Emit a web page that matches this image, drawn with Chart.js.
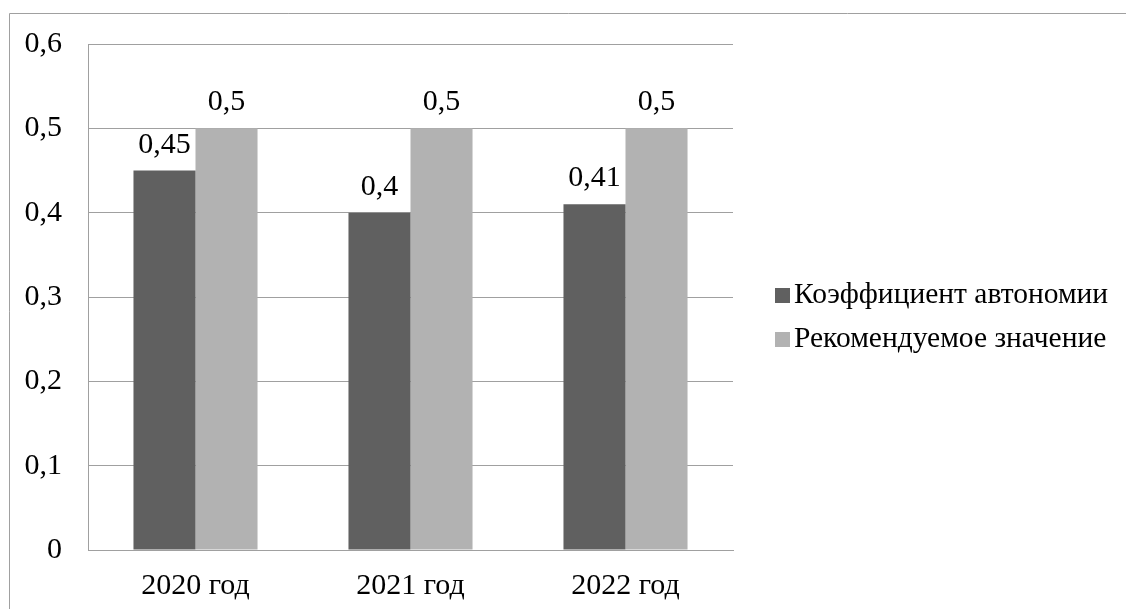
<!DOCTYPE html>
<html>
<head>
<meta charset="utf-8">
<script src="https://cdn.jsdelivr.net/npm/chart.js@4/dist/chart.umd.min.js"></script>
<style>
  html, body { margin: 0; padding: 0; background: #fff; }
  #wrap { width: 1126px; height: 609px; position: relative; }
</style>
</head>
<body>
<div id="wrap"><canvas id="c" width="1126" height="609"></canvas></div>
<script>
const categories = ['2020 год', '2021 год', '2022 год'];
const autonomyRatio = [0.45, 0.4, 0.41];
const recommendedValue = [0.5, 0.5, 0.5];
const seriesNames = ['Коэффициент автономии', 'Рекомендуемое значение'];
const yTicks = [0, 0.1, 0.2, 0.3, 0.4, 0.5, 0.6];

const FONT = '"Liberation Serif", "Times New Roman", serif';
const fmt = v => String(v).replace('.', ',');

// Outer frame around the figure (only top and left edges fall inside the canvas)
const framePlugin = {
  id: 'frame',
  beforeDraw(chart) {
    const ctx = chart.ctx;
    ctx.save();
    ctx.fillStyle = '#ffffff';
    ctx.fillRect(0, 0, chart.width, chart.height);
    ctx.strokeStyle = '#a0a0a0';
    ctx.lineWidth = 1;
    ctx.beginPath();
    ctx.moveTo(9.5, chart.height + 2);
    ctx.lineTo(9.5, 13.5);
    ctx.lineTo(chart.width + 2, 13.5);
    ctx.stroke();
    ctx.restore();
  }
};

// Value labels above each bar
const valueLabels = {
  id: 'valueLabels',
  afterDatasetsDraw(chart) {
    const ctx = chart.ctx;
    ctx.save();
    ctx.font = '30px ' + FONT;
    ctx.fillStyle = '#000';
    ctx.textAlign = 'center';
    ctx.textBaseline = 'alphabetic';
    chart.data.datasets.forEach((ds, i) => {
      chart.getDatasetMeta(i).data.forEach((bar, j) => {
        ctx.fillText(fmt(ds.data[j]), bar.x, bar.y - 18);
      });
    });
    ctx.restore();
  }
};

// Legend on the right side
const sideLegend = {
  id: 'sideLegend',
  afterDraw(chart) {
    const ctx = chart.ctx;
    ctx.save();
    ctx.font = '29.5px ' + FONT;
    ctx.textBaseline = 'alphabetic';
    ctx.textAlign = 'left';
    chart.data.datasets.forEach((ds, i) => {
      const base = 303 + i * 44;
      ctx.fillStyle = ds.backgroundColor;
      ctx.fillRect(775, base - 15, 15, 15);
      ctx.fillStyle = '#000';
      ctx.fillText(ds.label, 794, base);
    });
    ctx.restore();
  }
};

new Chart(document.getElementById('c'), {
  type: 'bar',
  data: {
    labels: categories,
    datasets: [
      { label: seriesNames[0], data: autonomyRatio, backgroundColor: '#606060' },
      { label: seriesNames[1], data: recommendedValue, backgroundColor: '#b2b2b2' }
    ]
  },
  options: {
    responsive: false,
    animation: false,
    events: [],
    layout: { padding: { left: 0, top: 43, right: 393, bottom: 0 } },
    datasets: { bar: { categoryPercentage: 0.577, barPercentage: 1.0 } },
    plugins: { legend: { display: false }, tooltip: { enabled: false } },
    scales: {
      x: {
        grid: { display: false, drawTicks: false },
        border: { display: true, color: '#a0a0a0', width: 1 },
        ticks: { color: '#000', font: { family: FONT, size: 30 }, padding: 18 },
        afterFit(scale) { scale.height = 59; }
      },
      y: {
        min: 0, max: 0.6,
        afterBuildTicks(scale) { scale.ticks = yTicks.map(v => ({ value: v })); },
        grid: { color: '#a0a0a0', lineWidth: 1, drawTicks: false },
        border: { display: true, color: '#a0a0a0', width: 1 },
        ticks: {
          color: '#000', font: { family: FONT, size: 30 }, padding: 26,
          callback: v => fmt(Math.round(v * 10) / 10)
        },
        afterFit(scale) { scale.width = 88; }
      }
    }
  },
  plugins: [framePlugin, valueLabels, sideLegend]
});
</script>
</body>
</html>
